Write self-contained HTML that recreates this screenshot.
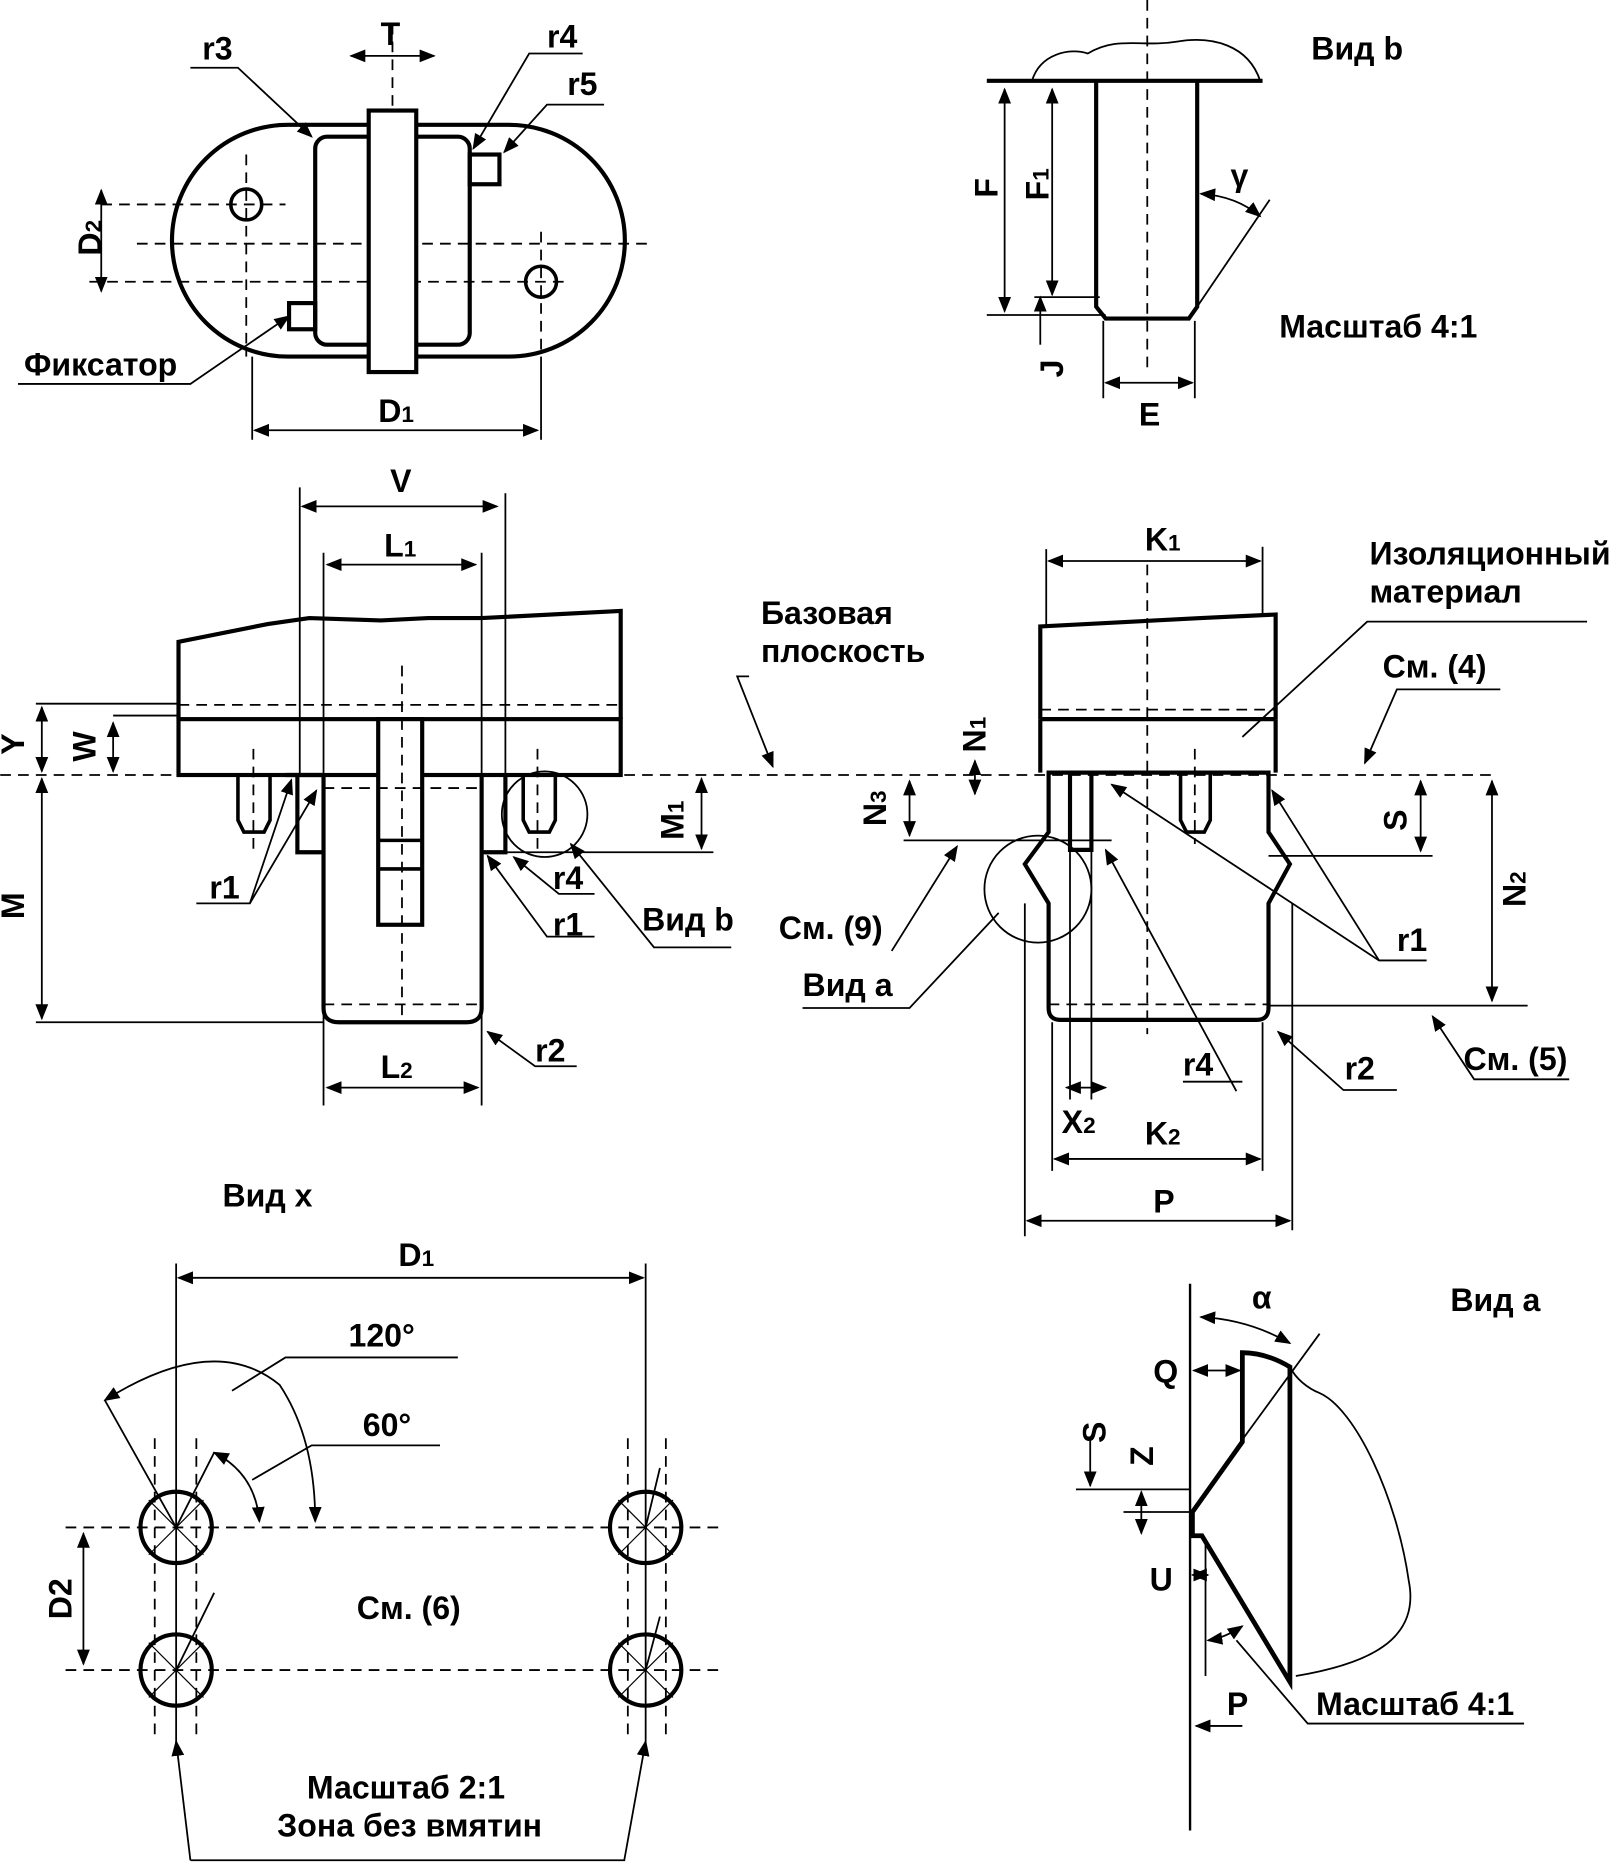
<!DOCTYPE html>
<html><head><meta charset="utf-8"><style>
html,body{margin:0;padding:0;background:#fff}
svg{display:block}
text{font-family:"Liberation Sans",sans-serif;font-weight:bold;font-size:27px;fill:#000}
.s{font-size:19px}
</style></head><body>
<svg width="1617" height="1865" viewBox="0 0 1360 1569" xmlns="http://www.w3.org/2000/svg">
<defs>
<marker id="a" viewBox="0 0 10 10" refX="9" refY="5" markerWidth="9" markerHeight="9" orient="auto-start-reverse"><path d="M0,1 L10,5 L0,9 z" fill="#000"/></marker>
</defs>
<g fill="none" stroke="#000">
<g stroke-width="1.5" stroke-dasharray="9,6">
<line x1="85" y1="172" x2="240" y2="172"/>
<line x1="115" y1="205" x2="545" y2="205"/>
<line x1="75" y1="237" x2="480" y2="237"/>
<line x1="207" y1="130" x2="207" y2="300"/>
<line x1="455" y1="195" x2="455" y2="300"/>
<line x1="330" y1="20" x2="330" y2="320"/>
</g>
<path d="M242,105 H428 A97,97 0 0 1 428,300 H242 A97,97 0 0 1 242,105 Z" stroke-width="3.5"/>
<rect x="265" y="115" width="130" height="175" rx="10" stroke-width="3.5"/>
<rect x="310" y="93" width="40" height="220" stroke-width="3.5" fill="#fff"/>
<rect x="395" y="130" width="25" height="25" stroke-width="3.5"/>
<rect x="243" y="255" width="22" height="22" stroke-width="3.5"/>
<circle cx="207" cy="172" r="13" stroke-width="3"/>
<circle cx="455" cy="237" r="13" stroke-width="3"/>
<g stroke-width="1.5">
<line x1="295" y1="47" x2="365" y2="47" marker-start="url(#a)" marker-end="url(#a)"/>
<line x1="85" y1="160" x2="85" y2="245" marker-start="url(#a)" marker-end="url(#a)"/>
<line x1="212" y1="300" x2="212" y2="370"/><line x1="455" y1="300" x2="455" y2="370"/>
<line x1="214" y1="362" x2="452" y2="362" marker-start="url(#a)" marker-end="url(#a)"/>
<path d="M160,57 H200 L262,115" marker-end="url(#a)"/>
<path d="M490,45 H445 L398,125" marker-end="url(#a)"/>
<path d="M508,88 H460 L424,128" marker-end="url(#a)"/>
<path d="M15,323 H160 L243,266" marker-end="url(#a)"/>
</g>
<line x1="965" y1="0" x2="965" y2="310" stroke-width="1.5" stroke-dasharray="9,6"/>
<path d="M868,68 C875,45 900,40 915,45 C940,30 960,40 990,35 C1020,30 1050,38 1060,68" stroke-width="1.5"/>
<line x1="830" y1="68" x2="1062" y2="68" stroke-width="3.5"/>
<path d="M922,68 V258 L930,268 H1000 L1007,258 V68" stroke-width="3.5"/>
<g stroke-width="1.5">
<line x1="830" y1="265" x2="930" y2="265"/><line x1="870" y1="250" x2="925" y2="250"/>
<line x1="845" y1="75" x2="845" y2="262" marker-start="url(#a)" marker-end="url(#a)"/>
<line x1="885" y1="75" x2="885" y2="248" marker-start="url(#a)" marker-end="url(#a)"/>
<line x1="875" y1="250" x2="875" y2="290" marker-start="url(#a)"/>
<line x1="928" y1="270" x2="928" y2="335"/><line x1="1005" y1="270" x2="1005" y2="335"/>
<line x1="930" y1="322" x2="1003" y2="322" marker-start="url(#a)" marker-end="url(#a)"/>
<line x1="1007" y1="258" x2="1068" y2="168"/>
<path d="M1010,163 Q1040,165 1060,182" marker-start="url(#a)" marker-end="url(#a)"/>
</g>
<line x1="0" y1="652" x2="1260" y2="652" stroke-width="1.5" stroke-dasharray="9,6"/>
<line x1="30" y1="592" x2="150" y2="592" stroke-width="1.5"/>
<line x1="150" y1="593" x2="522" y2="593" stroke-width="1.5" stroke-dasharray="9,6"/>
<path d="M150,605 V540 L225,525 L260,520 L320,522 L360,520 L405,520 L522,514 V605" stroke-width="3.5"/>
<rect x="150" y="605" width="372" height="47" stroke-width="3.5"/>
<path d="M272,652 V848 Q272,860 285,860 H392 Q405,860 405,848 V652" stroke-width="3.5"/>
<rect x="318" y="605" width="37" height="173" stroke-width="3.5" fill="#fff"/>
<line x1="318" y1="707" x2="355" y2="707" stroke-width="3"/>
<line x1="318" y1="731" x2="355" y2="731" stroke-width="3"/>
<path d="M250,652 V717 H272 M405,717 H425 V652" stroke-width="3.5"/>
<path d="M240,652 H272" stroke-width="3.5"/>
<path d="M200,652 V690 L205,700 H222 L227,690 V652" stroke-width="3"/>
<path d="M440,652 V690 L445,700 H462 L467,690 V652" stroke-width="3"/>
<circle cx="458" cy="685" r="36" stroke-width="1.5"/>
<g stroke-width="1.5" stroke-dasharray="9,6">
<line x1="213" y1="630" x2="213" y2="720"/><line x1="452" y1="630" x2="452" y2="720"/>
<line x1="338" y1="560" x2="338" y2="860"/>
<line x1="272" y1="663" x2="405" y2="663"/><line x1="272" y1="845" x2="405" y2="845"/>
</g>
<g stroke-width="1.5">
<line x1="252" y1="410" x2="252" y2="652"/><line x1="425" y1="415" x2="425" y2="652"/>
<line x1="254" y1="426" x2="418" y2="426" marker-start="url(#a)" marker-end="url(#a)"/>
<line x1="272" y1="465" x2="272" y2="930"/><line x1="405" y1="465" x2="405" y2="930"/>
<line x1="275" y1="475" x2="400" y2="475" marker-start="url(#a)" marker-end="url(#a)"/>
<line x1="275" y1="915" x2="402" y2="915" marker-start="url(#a)" marker-end="url(#a)"/>
<line x1="30" y1="860" x2="272" y2="860"/>
<line x1="35" y1="655" x2="35" y2="857" marker-start="url(#a)" marker-end="url(#a)"/>
<line x1="35" y1="595" x2="35" y2="649" marker-start="url(#a)" marker-end="url(#a)"/>
<line x1="95" y1="608" x2="95" y2="649" marker-start="url(#a)" marker-end="url(#a)"/>
<line x1="95" y1="602" x2="150" y2="602"/>
<line x1="425" y1="717" x2="600" y2="717"/>
<line x1="590" y1="655" x2="590" y2="714" marker-start="url(#a)" marker-end="url(#a)"/>
<path d="M165,760 H210 L245,656" marker-end="url(#a)"/>
<path d="M210,760 L266,665" marker-end="url(#a)"/>
<path d="M500,788 H460 L410,720" marker-end="url(#a)"/>
<path d="M500,752 H470 L432,721" marker-end="url(#a)"/>
<path d="M615,797 H550 L480,710" marker-end="url(#a)"/>
<path d="M485,897 H450 L410,868" marker-end="url(#a)"/>
<path d="M630,569 H620 L650,645" marker-end="url(#a)"/>
</g>
<path d="M875,605 V527 L1010,520 L1073,517 V605" stroke-width="3.5"/>
<line x1="875" y1="605" x2="1073" y2="605" stroke-width="3.5"/>
<line x1="875" y1="597" x2="1073" y2="597" stroke-width="1.5" stroke-dasharray="9,6"/>
<path d="M875,605 V650 M1073,605 V650" stroke-width="3.5"/>
<path d="M882,650 V700 L862,727 L882,760 V848 Q882,858 892,858 H1057 Q1067,858 1067,848 V760 L1085,727 L1067,700 V650 Z" stroke-width="3.5"/>
<path d="M900,650 V715 H918 V650" stroke-width="3.5"/>
<path d="M993,650 V690 L998,700 H1013 L1018,690 V650" stroke-width="3"/>
<circle cx="873" cy="748" r="45" stroke-width="1.5"/>
<g stroke-width="1.5" stroke-dasharray="9,6">
<line x1="965" y1="475" x2="965" y2="870"/>
<line x1="1005" y1="630" x2="1005" y2="710"/>
<line x1="882" y1="845" x2="1067" y2="845"/>
</g>
<g stroke-width="1.5">
<line x1="880" y1="462" x2="880" y2="527"/><line x1="1062" y1="460" x2="1062" y2="517"/>
<line x1="882" y1="472" x2="1060" y2="472" marker-start="url(#a)" marker-end="url(#a)"/>
<line x1="862" y1="760" x2="862" y2="1040"/><line x1="1087" y1="760" x2="1087" y2="1035"/>
<line x1="864" y1="1027" x2="1085" y2="1027" marker-start="url(#a)" marker-end="url(#a)"/>
<line x1="885" y1="860" x2="885" y2="985"/><line x1="1062" y1="860" x2="1062" y2="985"/>
<line x1="887" y1="975" x2="1060" y2="975" marker-start="url(#a)" marker-end="url(#a)"/>
<line x1="900" y1="715" x2="900" y2="925"/><line x1="918" y1="715" x2="918" y2="925"/>
<line x1="897" y1="915" x2="930" y2="915" marker-start="url(#a)" marker-end="url(#a)"/>
<line x1="760" y1="707" x2="935" y2="707"/>
<line x1="765" y1="657" x2="765" y2="703" marker-start="url(#a)" marker-end="url(#a)"/>
<line x1="820" y1="640" x2="820" y2="668" marker-start="url(#a)" marker-end="url(#a)"/>
<line x1="1067" y1="720" x2="1205" y2="720"/>
<line x1="1195" y1="657" x2="1195" y2="716" marker-start="url(#a)" marker-end="url(#a)"/>
<line x1="1067" y1="846" x2="1285" y2="846"/>
<line x1="1255" y1="657" x2="1255" y2="842" marker-start="url(#a)" marker-end="url(#a)"/>
<path d="M1335,523 H1150 L1045,620"/>
<path d="M1262,580 H1175 L1148,642" marker-end="url(#a)"/>
<path d="M750,800 L805,712" marker-end="url(#a)"/>
<path d="M675,848 H765 L840,768"/>
<path d="M1200,808 H1160 L935,660" marker-end="url(#a)"/>
<path d="M1160,808 L1070,665" marker-end="url(#a)"/>
<path d="M1040,918 L930,715" marker-end="url(#a)"/>
<path d="M995,910 H1045"/>
<path d="M1175,917 H1130 L1075,868" marker-end="url(#a)"/>
<path d="M1320,908 H1240 L1205,855" marker-end="url(#a)"/>
</g>
<g stroke-width="1.5" stroke-dasharray="9,6">
<line x1="55" y1="1285" x2="605" y2="1285"/>
<line x1="55" y1="1405" x2="605" y2="1405"/>
<line x1="130" y1="1210" x2="130" y2="1465"/><line x1="165" y1="1210" x2="165" y2="1465"/>
<line x1="528" y1="1210" x2="528" y2="1465"/><line x1="560" y1="1210" x2="560" y2="1465"/>
</g>
<g stroke-width="3.5">
<circle cx="148" cy="1285" r="30"/><circle cx="543" cy="1285" r="30"/>
<circle cx="148" cy="1405" r="30"/><circle cx="543" cy="1405" r="30"/>
</g>
<g stroke-width="1">
<path d="M125,1262 L171,1308 M171,1262 L125,1308 M125,1382 L171,1428 M171,1382 L125,1428 M520,1262 L566,1308 M566,1262 L520,1308 M520,1382 L566,1428 M566,1382 L520,1428"/>
</g>
<g stroke-width="1.5">
<line x1="148" y1="1063" x2="148" y2="1470"/><line x1="543" y1="1063" x2="543" y2="1470"/>
<line x1="150" y1="1075" x2="541" y2="1075" marker-start="url(#a)" marker-end="url(#a)"/>
<line x1="70" y1="1290" x2="70" y2="1400" marker-start="url(#a)" marker-end="url(#a)"/>
<path d="M88,1178 Q180,1120 235,1165 Q265,1210 265,1280" marker-start="url(#a)" marker-end="url(#a)"/>
<path d="M180,1222 Q215,1240 218,1280" marker-start="url(#a)" marker-end="url(#a)"/>
<path d="M385,1142 H240 L195,1170"/>
<path d="M370,1216 H262 L212,1245"/>
<path d="M88,1178 L148,1285 M180,1222 L148,1285 M180,1340 L148,1405 M555,1235 L543,1285 M555,1360 L543,1405"/>
<path d="M160,1565 L148,1465" marker-end="url(#a)"/>
<path d="M160,1565 H525 L543,1465" marker-end="url(#a)"/>
</g>
<line x1="1001" y1="1080" x2="1001" y2="1540" stroke-width="2"/>
<path d="M1045,1138 V1213 L1003,1272 V1292 H1011 L1085,1415 V1150 Q1065,1138 1045,1138 Z" stroke-width="4" stroke-linejoin="miter"/>
<g stroke-width="1.5">
<path d="M1085,1150 C1090,1160 1100,1168 1110,1172 C1140,1185 1175,1260 1185,1330 C1195,1380 1150,1400 1090,1410"/>
<line x1="1040" y1="1218" x2="1110" y2="1122"/>
<path d="M1010,1108 Q1050,1110 1085,1130" marker-start="url(#a)" marker-end="url(#a)"/>
<line x1="1004" y1="1153" x2="1043" y2="1153" marker-start="url(#a)" marker-end="url(#a)"/>
<line x1="905" y1="1253" x2="1001" y2="1253"/>
<line x1="945" y1="1272" x2="1003" y2="1272"/>
<line x1="917" y1="1210" x2="917" y2="1250" marker-end="url(#a)"/>
<line x1="960" y1="1255" x2="960" y2="1290" marker-start="url(#a)" marker-end="url(#a)"/>
<line x1="1014" y1="1295" x2="1014" y2="1410"/>
<line x1="1003" y1="1325" x2="1016" y2="1325" marker-start="url(#a)" marker-end="url(#a)"/>
<path d="M1016,1380 Q1030,1378 1045,1368" marker-start="url(#a)" marker-end="url(#a)"/>
<path d="M1040,1380 L1100,1450 H1282"/>
<line x1="1045" y1="1452" x2="1006" y2="1452" marker-end="url(#a)"/>
</g>
</g>
<text x="320" y="38">T</text>
<text x="170" y="50">r3</text>
<text x="460" y="40">r4</text>
<text x="477" y="80">r5</text>
<text x="75" y="210" transform="rotate(-90 75 200)" text-anchor="middle">D<tspan class="s">2</tspan></text>
<text x="20" y="316">Фиксатор</text>
<text x="318" y="355">D<tspan class="s">1</tspan></text>
<text x="1103" y="50">Вид b</text>
<text x="832" y="165" transform="rotate(-90 832 158)" text-anchor="middle">F</text>
<text x="877" y="160" transform="rotate(-90 877 155)" text-anchor="middle">F<tspan class="s">1</tspan></text>
<text x="1035" y="157">γ</text>
<text x="889" y="315" transform="rotate(-90 889 310)" text-anchor="middle">J</text>
<text x="958" y="358">E</text>
<text x="1076" y="284">Масштаб 4:1</text>
<text x="328" y="414">V</text>
<text x="323" y="468">L<tspan class="s">1</tspan></text>
<text x="640" y="525">Базовая</text>
<text x="640" y="557">плоскость</text>
<text x="20" y="626" transform="rotate(-90 20 626)" text-anchor="middle">Y</text>
<text x="80" y="628" transform="rotate(-90 80 628)" text-anchor="middle">W</text>
<text x="20" y="762" transform="rotate(-90 20 762)" text-anchor="middle">M</text>
<text x="575" y="690" transform="rotate(-90 575 690)" text-anchor="middle">M<tspan class="s">1</tspan></text>
<text x="176" y="756">r1</text>
<text x="465" y="748">r4</text>
<text x="465" y="787">r1</text>
<text x="540" y="783">Вид b</text>
<text x="450" y="893">r2</text>
<text x="320" y="907">L<tspan class="s">2</tspan></text>
<text x="963" y="463">K<tspan class="s">1</tspan></text>
<text x="1152" y="475">Изоляционный</text>
<text x="1152" y="507">материал</text>
<text x="1163" y="570">См. (4)</text>
<text x="829" y="618" transform="rotate(-90 829 618)" text-anchor="middle">N<tspan class="s">1</tspan></text>
<text x="745" y="680" transform="rotate(-90 745 680)" text-anchor="middle">N<tspan class="s">3</tspan></text>
<text x="1183" y="690" transform="rotate(-90 1183 690)" text-anchor="middle">S</text>
<text x="1283" y="748" transform="rotate(-90 1283 748)" text-anchor="middle">N<tspan class="s">2</tspan></text>
<text x="655" y="790">См. (9)</text>
<text x="675" y="838">Вид a</text>
<text x="1175" y="800">r1</text>
<text x="995" y="905">r4</text>
<text x="1131" y="908">r2</text>
<text x="1231" y="900">См. (5)</text>
<text x="893" y="953">X<tspan class="s">2</tspan></text>
<text x="963" y="963">K<tspan class="s">2</tspan></text>
<text x="970" y="1020">P</text>
<text x="187" y="1015">Вид x</text>
<text x="335" y="1065">D<tspan class="s">1</tspan></text>
<text x="293" y="1133">120°</text>
<text x="305" y="1208">60°</text>
<text x="60" y="1345" transform="rotate(-90 60 1345)" text-anchor="middle">D2</text>
<text x="300" y="1362">См. (6)</text>
<text x="258" y="1513">Масштаб 2:1</text>
<text x="233" y="1545">Зона без вмятин</text>
<text x="1053" y="1101">α</text>
<text x="1220" y="1103">Вид a</text>
<text x="970" y="1163">Q</text>
<text x="930" y="1205" transform="rotate(-90 930 1205)" text-anchor="middle">S</text>
<text x="970" y="1225" transform="rotate(-90 970 1225)" text-anchor="middle">Z</text>
<text x="967" y="1338">U</text>
<text x="1032" y="1443">P</text>
<text x="1107" y="1443">Масштаб 4:1</text>
</svg>
</body></html>
